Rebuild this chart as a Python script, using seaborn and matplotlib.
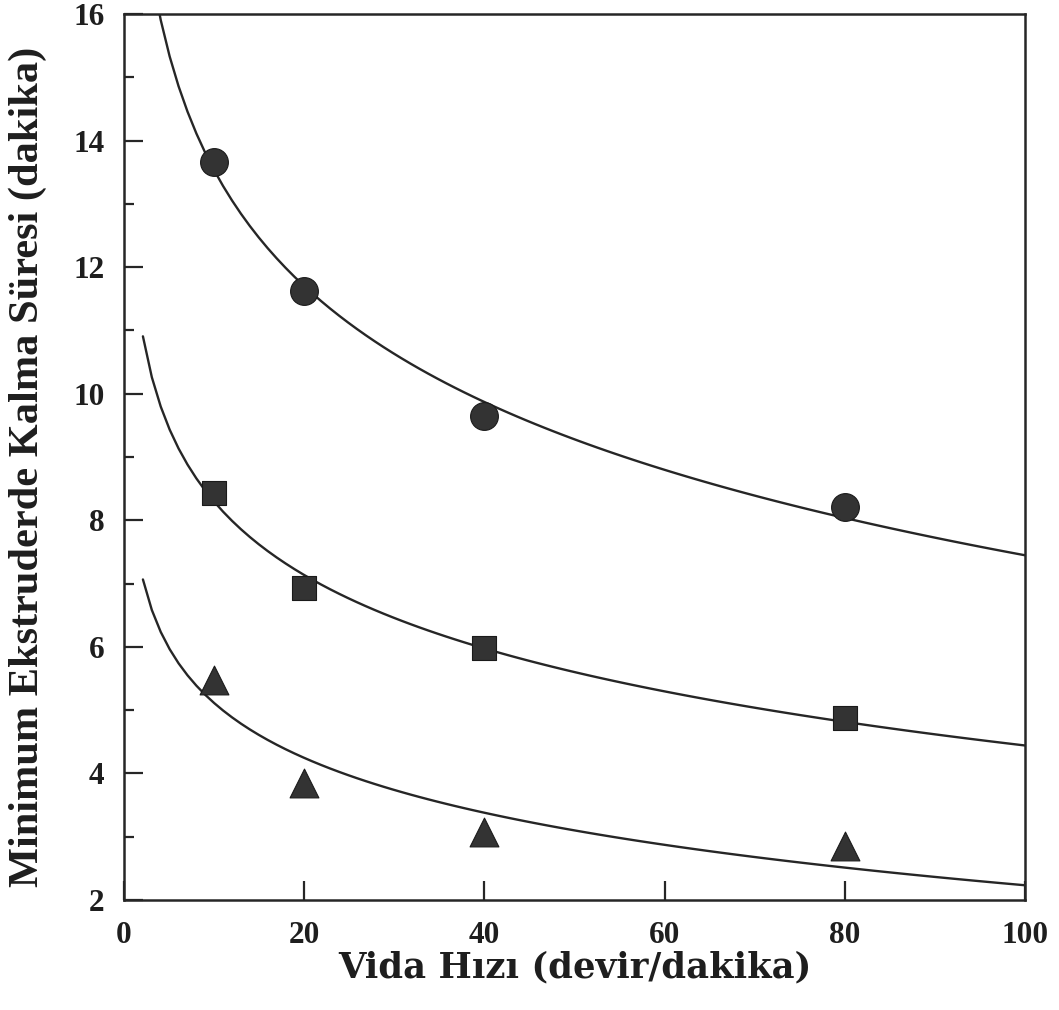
import numpy as np
import pandas as pd
import matplotlib
matplotlib.use("Agg")
import matplotlib.pyplot as plt
import seaborn as sns
from matplotlib.ticker import MultipleLocator, FixedLocator

# ---- data ----
speed = [10, 20, 40, 80]                      # Vida Hızı (devir/dakika)
time_circle = [13.66, 11.62, 9.65, 8.21]      # upper series
time_square = [8.43, 6.93, 5.98, 4.88]        # middle series
time_triangle = [5.48, 3.85, 3.07, 2.85]      # lower series

x_ticks = [0, 20, 40, 60, 80, 100]
y_ticks = [2, 4, 6, 8, 10, 12, 14, 16]
x_label = "Vida Hızı (devir/dakika)"
y_label = "Minimum Ekstruderde Kalma Süresi (dakika)"

series = [
    ("circle", time_circle, "o", 400),
    ("square", time_square, "s", 310),
    ("triangle", time_triangle, "^", 430),
]

sns.set_theme(style="white")
plt.rcParams["font.family"] = ["Liberation Serif", "DejaVu Serif"]
plt.rcParams["font.weight"] = "bold"

ink = "#262626"
fig = plt.figure(figsize=(10.59, 10.10), dpi=100)
ax = fig.add_axes([124 / 1059, 1 - 900 / 1010, (1025 - 124) / 1059, (900 - 14) / 1010])

for name, vals, marker, size in series:
    df = pd.DataFrame({"speed": speed, "time": vals})
    # fitted logarithmic curve, drawn from the fit start to the right edge
    ax.set_xlim(2.1, 100)
    sns.regplot(data=df, x="speed", y="time", logx=True, ci=None, scatter=False,
                truncate=False, ax=ax,
                line_kws=dict(color=ink, lw=1.7, zorder=2))
    sns.scatterplot(data=df, x="speed", y="time", marker=marker, s=size,
                    color="#333333", edgecolor="#1a1a1a", linewidth=0.8,
                    ax=ax, zorder=3, legend=False)

ax.set_xlim(0, 100)
ax.set_ylim(2, 16)

ax.xaxis.set_major_locator(FixedLocator(x_ticks))
ax.yaxis.set_major_locator(FixedLocator(y_ticks))
ax.yaxis.set_minor_locator(MultipleLocator(1))
ax.set_xticklabels([str(t) for t in x_ticks])
ax.set_yticklabels([str(t) for t in y_ticks])

ax.tick_params(axis="both", which="both", direction="in", colors=ink,
               bottom=True, left=True, top=False, right=False)
ax.tick_params(axis="both", which="major", length=14, width=1.6,
               labelsize=22.5, labelcolor="#1e1e1e")
ax.tick_params(axis="x", which="major", pad=15)
ax.tick_params(axis="y", which="major", pad=14)
ax.tick_params(axis="y", which="minor", length=7, width=1.6)
for lab in ax.get_xticklabels() + ax.get_yticklabels():
    lab.set_fontweight("bold")

for sp in ax.spines.values():
    sp.set_visible(True)
    sp.set_color(ink)
    sp.set_linewidth(1.8)

ax.set_xlabel(x_label, fontsize=25.5, fontweight="bold", color="#1e1e1e",
              family=["DejaVu Serif"])
ax.set_ylabel(y_label, fontsize=30.5, fontweight="bold", color="#1e1e1e")
ax.xaxis.set_label_coords(0.5, -0.057)
ax.yaxis.set_label_coords(-0.085, 0.489)
ax.grid(False)

fig.savefig("out.png", dpi=100, facecolor="white")
